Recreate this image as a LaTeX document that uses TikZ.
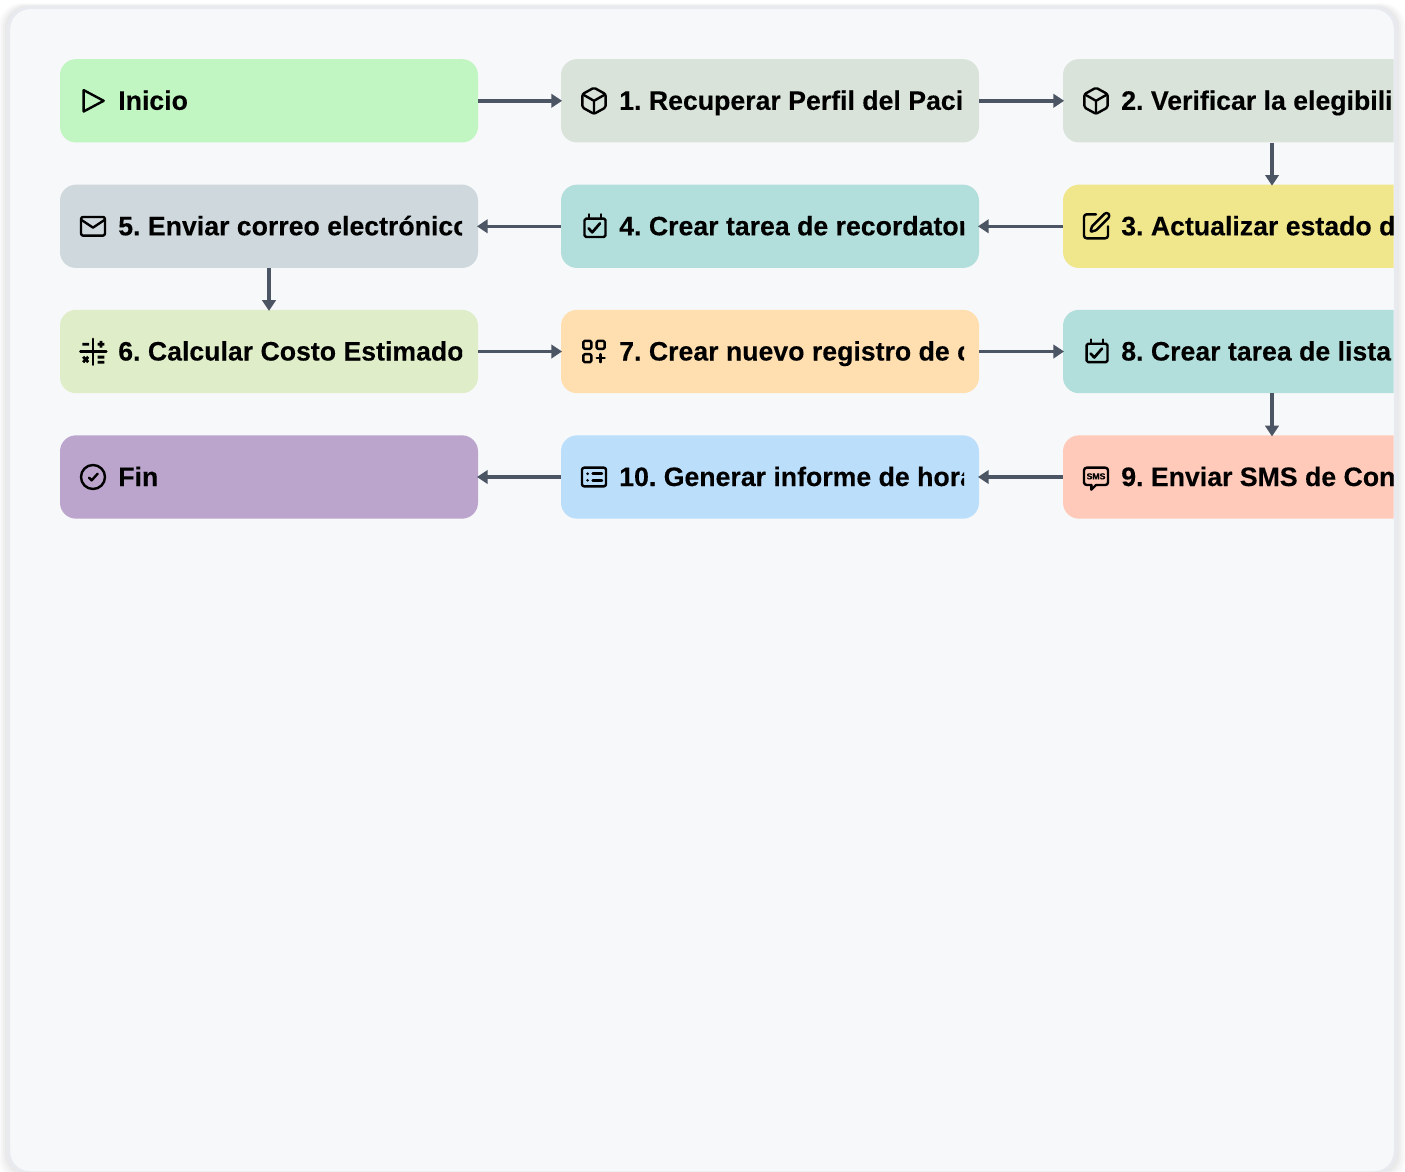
\documentclass[tikz,border=0pt]{standalone}
\usepackage{fontspec}
\setmainfont{Liberation Sans}[BoldFeatures={FakeBold=0.2}]
\usetikzlibrary{arrows.meta}
\definecolor{panelbg}{HTML}{F7F8FA}
\definecolor{panelline}{HTML}{E8EAF0}
\definecolor{edgecol}{HTML}{4B5563}
\definecolor{cgreen}{HTML}{C1F6C3}
\definecolor{csage}{HTML}{D9E3DA}
\definecolor{cyellow}{HTML}{F0E68C}
\definecolor{cteal}{HTML}{B2DFDB}
\definecolor{cslate}{HTML}{CFD8DC}
\definecolor{clime}{HTML}{DFEDC8}
\definecolor{corange}{HTML}{FFDFB0}
\definecolor{csalmon}{HTML}{FFCABA}
\definecolor{cblue}{HTML}{BBDEFB}
\definecolor{cpurple}{HTML}{BCA5CD}
\tikzset{
  stepbox/.style={rectangle,rounded corners=12pt,minimum width=313.5pt,minimum height=62.5pt,inner sep=0pt,draw=none},
  steplabel/.style={anchor=base west,inner sep=0pt,font=\fontsize{20pt}{24pt}\selectfont\bfseries\frenchspacing,text=black},
  iconline/.style={draw=black,line width=1.8pt,line cap=round,line join=round},
  flow/.style={draw=edgecol,line width=2.7pt,-{Triangle[length=8pt,width=10pt]},shorten >=-1pt},
}
\newcommand{\flowstep}[7]{%
  \node[stepbox,fill=#4] (#1) at ({#2+209},#3) {};
  \begin{scope}
    \clip (#2,#3-41) rectangle (#7,#3+41);
    \node[steplabel] (#1-label) at ({#2+58},{#3+9}) {#6};
  \end{scope}
  \begin{scope}[shift={({#2+17},{#3-16})},scale=1.3333]
    #5
  \end{scope}
}
\newcommand{\icoplay}{\draw[iconline] (5,4)--(20,12)--(5,20)--cycle;}
\newcommand{\icobox}{\draw[iconline,rounded corners=1.2pt] (12,2.2)--(20.7,7)--(20.7,17)--(12,21.8)--(3.3,17)--(3.3,7)--cycle;
  \draw[iconline] (3.6,7.2)--(12,12)--(20.4,7.2) (12,12)--(12,21.5);}
\newcommand{\icomail}{\draw[iconline,rounded corners=1.6pt] (3,5) rectangle (21,19);
  \draw[iconline] (3.3,7.2)--(12,13)--(20.7,7.2);}
\newcommand{\icocal}{\draw[iconline,rounded corners=1.2pt] (4.9,6.2) rectangle (20.6,20);
  \draw[iconline] (8.3,3)--(8.3,6.2) (17.3,3)--(17.3,6.2);
  \draw[iconline,line width=2pt] (7.9,13.5)--(10.7,16.5)--(16.5,9.8);}
\newcommand{\icopen}{\draw[iconline] (12,3)--(5,3) .. controls (3.9,3) and (3,3.9) .. (3,5)--(3,19) .. controls (3,20.1) and (3.9,21) .. (5,21)--(19,21) .. controls (20.1,21) and (21,20.1) .. (21,19)--(21,12);
  \draw[iconline] (18.375,2.625) .. controls (19.2,1.8) and (20.55,1.8) .. (21.375,2.625) .. controls (22.2,3.45) and (22.2,4.8) .. (21.375,5.625)--(12.362,14.639)--(11.509,15.144)--(8.636,15.984)--(8.016,15.364)--(8.856,12.491)--(9.362,11.639)--cycle;}
\newcommand{\icomath}{\draw[iconline] (2.5,12)--(22,12) (11.8,2.5)--(11.8,22);
  \draw[iconline,line width=2.1pt,line cap=butt] (4,6.6)--(9,6.6) (15.5,6.6)--(20.5,6.6) (18,4.1)--(18,9.1) (4.6,16)--(8.4,20) (8.4,16)--(4.6,20) (15.5,16.2)--(20.5,16.2) (15.5,20)--(20.5,20);}
\newcommand{\icoapps}{\draw[iconline,rounded corners=1pt] (4,4) rectangle (10,10) (14,4) rectangle (20,10) (4,14) rectangle (10,20);
  \draw[iconline] (14,17)--(20,17) (17,14)--(17,20);}
\newcommand{\icosms}{\draw[iconline,rounded corners=2pt] (12,18)--(21,18)--(21,5)--(3,5)--(3,18)--(8.5,18);
  \draw[iconline] (12,18)--(8.5,21.5)--(8.5,18);
  \node[inner sep=0pt,font=\fontsize{6.5pt}{6.5pt}\selectfont\bfseries] (smstext) at (12,11.5) {SMS};}
\newcommand{\icolist}{\draw[iconline,rounded corners=1.6pt] (3,5) rectangle (21,19);
  \fill (7.2,9.5) circle[radius=1.1] (7.2,14.5) circle[radius=1.1];
  \draw[iconline] (11,9.5)--(18,9.5) (11,14.5)--(18,14.5);}
\newcommand{\icodone}{\draw[iconline] (12,12) circle[radius=9];
  \draw[iconline] (9,12.5)--(11,14.5)--(15.5,9.5);}
\begin{document}
\begin{tikzpicture}[x=0.75pt,y=-0.75pt]
\useasboundingbox (0,0) rectangle (1405,1171);
\clip (0,0) rectangle (1405,1171);
\fill[white] (0,0) rectangle (1405,1171);
% panel shadow
\foreach \g/\o in {9/0.04,7/0.04,5/0.05,3/0.06}{
  \fill[black!45,opacity=\o,rounded corners=17pt] ({8-\g},{7-\g*0.4}) rectangle ({1396+\g},{1173+\g});
}
\path[fill=panelbg,draw=panelline,line width=2.6pt,rounded corners=16pt] (8.5,7.5) rectangle (1395.5,1173);
\begin{scope}
\clip (8,8) rectangle (1393.5,1171);
\flowstep{n0}{60}{100.8}{cgreen}{\icoplay}{Inicio}{462}
\flowstep{n1}{561}{100.8}{csage}{\icobox}{1. Recuperar Perfil del Paci}{964}
\flowstep{n2}{1063}{100.8}{csage}{\icobox}{2. Verificar la elegibili}{1393.5}
\flowstep{n3}{1063}{226.3}{cyellow}{\icopen}{3. Actualizar estado d}{1393.5}
\flowstep{n4}{561}{226.3}{cteal}{\icocal}{4. Crear tarea de recordator}{964}
\flowstep{n5}{60}{226.3}{cslate}{\icomail}{5. Enviar correo electrónico}{462}
\flowstep{n6}{60}{351.5}{clime}{\icomath}{6. Calcular Costo Estimado}{462}
\flowstep{n7}{561}{351.5}{corange}{\icoapps}{7. Crear nuevo registro de c}{964}
\flowstep{n8}{1063}{351.5}{cteal}{\icocal}{8. Crear tarea de lista}{1393.5}
\flowstep{n9}{1063}{477}{csalmon}{\icosms}{9. Enviar SMS de Con}{1393.5}
\flowstep{n10}{561}{477}{cblue}{\icolist}{10. Generar informe de hora}{964}
\flowstep{n11}{60}{477}{cpurple}{\icodone}{Fin}{462}
\end{scope}
\draw[flow] (n0.east)--(n1.west);
\draw[flow] (n1.east)--(n2.west);
\draw[flow] (n2.south)--(n3.north);
\draw[flow] (n3.west)--(n4.east);
\draw[flow] (n4.west)--(n5.east);
\draw[flow] (n5.south)--(n6.north);
\draw[flow] (n6.east)--(n7.west);
\draw[flow] (n7.east)--(n8.west);
\draw[flow] (n8.south)--(n9.north);
\draw[flow] (n9.west)--(n10.east);
\draw[flow] (n10.west)--(n11.east);
\end{tikzpicture}
\end{document}
